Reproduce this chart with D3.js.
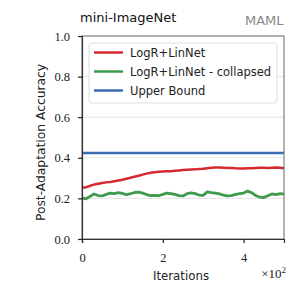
<!DOCTYPE html>
<html>
<head>
<meta charset="utf-8">
<script src="https://cdn.jsdelivr.net/npm/d3@7"></script>
<style>
  body { margin: 0; background: #fff; }
</style>
</head>
<body>
<div id="chart"></div>
<script>
// iterations (x axis shown in units of 10^2)
var iterations = [0,10,20,30,40,50,60,70,80,90,100,110,120,130,140,150,160,170,180,190,200,
	210,220,230,240,250,260,270,280,290,300,310,320,330,340,350,360,370,380,390,400,
	410,420,430,440,450,460,470,480,490,500];

var logrLinnet = [0.252,0.255,0.262,0.268,0.272,0.276,0.279,0.281,0.284,0.288,0.292,
	0.297,0.302,0.307,0.312,0.317,0.322,0.326,0.329,0.331,0.333,0.334,0.334,0.336,0.338,
	0.340,0.341,0.342,0.343,0.345,0.346,0.349,0.351,0.352,0.352,0.351,0.350,0.350,0.348,
	0.347,0.347,0.348,0.349,0.350,0.351,0.351,0.350,0.351,0.352,0.351,0.349];

var logrCollapsed = [0.202,0.198,0.210,0.222,0.214,0.212,0.220,0.226,0.224,0.228,0.225,
	0.218,0.223,0.229,0.231,0.226,0.219,0.214,0.215,0.213,0.220,0.226,0.223,0.220,0.214,
	0.212,0.223,0.227,0.224,0.216,0.215,0.232,0.228,0.226,0.222,0.216,0.212,0.214,0.220,
	0.224,0.226,0.236,0.228,0.214,0.206,0.204,0.213,0.222,0.219,0.223,0.221];

var upperBound = 0.424;

var seriesNames = ["LogR+LinNet", "LogR+LinNet - collapsed", "Upper Bound"];
var seriesColors = ["#d42a2f", "#3e9a4d", "#3a6db5"];
var yTicks = [0, 0.2, 0.4, 0.6, 0.8, 1.0];
var xTicks = [0, 200, 400];

var W = 299, H = 299;
var margin = {top: 36, right: 15, bottom: 60, left: 82};
var pw = W - margin.left - margin.right,
	ph = H - margin.top - margin.bottom;

var serif = "Liberation Serif";
var sans = "DejaVu Sans";

var svg = d3.select("#chart").append("svg")
	.attr("width", W)
	.attr("height", H);

var x = d3.scaleLinear().domain([0, 500]).range([margin.left, margin.left + pw]);
var y = d3.scaleLinear().domain([0, 1]).range([margin.top + ph, margin.top]);

// grid
svg.append("g")
	.selectAll("line")
	.data(yTicks.slice(1, -1))
	.enter()
	.append("line")
	.attr("x1", x(0))
	.attr("x2", x(500))
	.attr("y1", function(d){ return y(d); })
	.attr("y2", function(d){ return y(d); })
	.attr("stroke", "#e4e4e4")
	.attr("stroke-width", 1);

// lines
var line = d3.line()
	.x(function(d){ return x(d[0]); })
	.y(function(d){ return y(d[1]); });

svg.append("line")
	.attr("x1", x(0)).attr("x2", x(500))
	.attr("y1", y(upperBound)).attr("y2", y(upperBound))
	.attr("stroke", seriesColors[2])
	.attr("stroke-width", 2.5);

svg.append("path")
	.datum(d3.zip(iterations, logrCollapsed))
	.attr("d", line)
	.attr("fill", "none")
	.attr("stroke", seriesColors[1])
	.attr("stroke-width", 2.8)
	.attr("stroke-linejoin", "round");

svg.append("path")
	.datum(d3.zip(iterations, logrLinnet))
	.attr("d", line)
	.attr("fill", "none")
	.attr("stroke", seriesColors[0])
	.attr("stroke-width", 2.5)
	.attr("stroke-linejoin", "round");

// frame
svg.append("rect")
	.attr("x", margin.left)
	.attr("y", margin.top)
	.attr("width", pw)
	.attr("height", ph)
	.attr("fill", "none")
	.attr("stroke", "#666")
	.attr("stroke-width", 1);

// axes
var yAxis = svg.append("g")
	.attr("transform", "translate(" + margin.left + ",0)")
	.call(d3.axisLeft(y).tickValues(yTicks).tickSize(4).tickPadding(8)
		.tickFormat(d3.format(".1f")));
var xAxis = svg.append("g")
	.attr("transform", "translate(0," + (margin.top + ph) + ")")
	.call(d3.axisBottom(x).tickValues(xTicks).tickSize(4).tickPadding(10)
		.tickFormat(function(d){ return d / 100; }));

[yAxis, xAxis].forEach(function(a){
	a.attr("font-family", null).attr("font-size", null);
	a.select(".domain").attr("stroke", "#333").attr("stroke-width", 1.2);
	a.selectAll(".tick line").attr("stroke", "#222").attr("stroke-width", 1.2);
	a.selectAll(".tick text")
		.style("font-family", serif)
		.style("font-size", "12.5px")
		.attr("fill", "#222");
});

// labels
svg.append("text")
	.text("Iterations")
	.attr("x", 181)
	.attr("y", 280)
	.attr("text-anchor", "middle")
	.style("font-family", sans)
	.style("font-size", "11.8px")
	.attr("fill", "#222");

var mult = svg.append("text")
	.attr("x", 286)
	.attr("y", 278)
	.attr("text-anchor", "end")
	.style("font-family", serif)
	.style("font-size", "13px")
	.attr("fill", "#222");
mult.append("tspan").text("\u00d710");
mult.append("tspan").text("2").attr("dy", -5).style("font-size", "9px");

svg.append("text")
	.text("Post-Adaptation Accuracy")
	.attr("transform", "translate(45,142.5) rotate(-90)")
	.attr("text-anchor", "middle")
	.style("font-family", sans)
	.style("font-size", "12.3px")
	.attr("fill", "#222");

svg.append("text")
	.text("mini-ImageNet")
	.attr("x", 80)
	.attr("y", 21.5)
	.style("font-family", sans)
	.style("font-size", "13px")
	.attr("fill", "#111");

svg.append("text")
	.text("MAML")
	.attr("x", 283.5)
	.attr("y", 25)
	.attr("text-anchor", "end")
	.style("font-family", sans)
	.style("font-size", "13px")
	.attr("fill", "#888");

// legend
var legend = svg.append("g");
legend.append("rect")
	.attr("x", 89).attr("y", 43)
	.attr("width", 188).attr("height", 60)
	.attr("rx", 3)
	.attr("fill", "#fff")
	.attr("fill-opacity", 0.85)
	.attr("stroke", "#ddd");

var items = legend.selectAll("g.item")
	.data(seriesNames)
	.enter()
	.append("g")
	.attr("class", "item")
	.attr("transform", function(d, i){ return "translate(0," + (52.5 + i * 19) + ")"; });
items.append("line")
	.attr("x1", 94).attr("x2", 123)
	.attr("stroke", function(d, i){ return seriesColors[i]; })
	.attr("stroke-width", 2.5);
items.append("text")
	.text(function(d){ return d; })
	.attr("x", 130)
	.attr("y", 4)
	.style("font-family", sans)
	.style("font-size", "11.5px")
	.attr("fill", "#222");
</script>
</body>
</html>
